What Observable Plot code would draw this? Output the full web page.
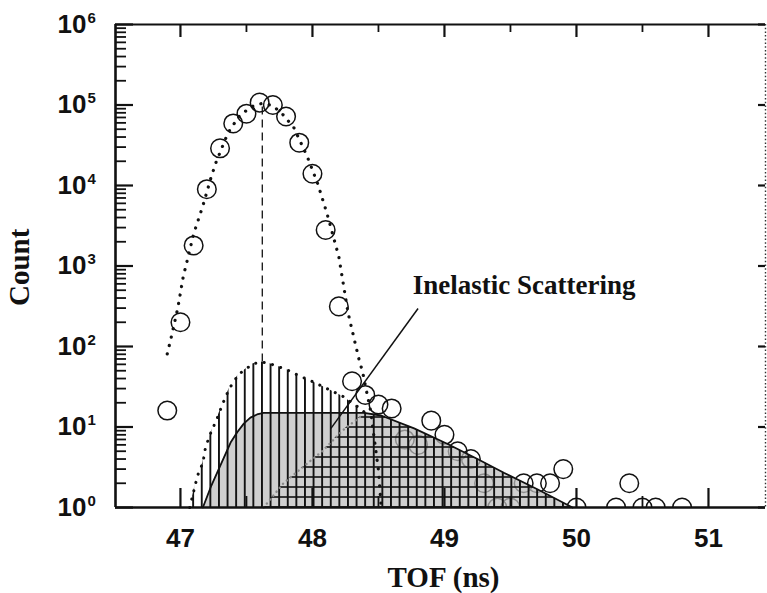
<!DOCTYPE html>
<html><head><meta charset="utf-8">
<script src="https://cdn.jsdelivr.net/npm/d3@7"></script>
<script src="https://cdn.jsdelivr.net/npm/@observablehq/plot@0.6"></script>
<style>html,body{margin:0;padding:0;background:#fff;overflow:hidden}</style>
</head><body><div id="chart"></div>
<script>
// ---- data ----
// measured elastic-peak counts (open circles)
const elasticTOF = [46.9, 47.0, 47.1, 47.2, 47.3, 47.4, 47.5, 47.6, 47.7, 47.8, 47.9, 48.0, 48.1, 48.2, 48.3, 48.4, 48.5, 48.6, 48.7, 48.8, 48.9, 49.0, 49.1, 49.2, 49.3, 49.4, 49.5, 49.6, 49.7, 49.8, 49.9, 50.0, 50.3, 50.4, 50.5, 50.6, 50.8];
const elasticCount = [16, 200, 1800, 9000, 29000, 59000, 78000, 107000, 100000, 72000, 34000, 14000, 2800, 315, 37, 25, 19, 17, 7, 6, 12, 8, 5, 4, 2, 1, 1, 2, 2, 2, 3, 1, 1, 2, 1, 1, 1];

// dotted fit through the elastic peak
const fitTOF = [46.90, 46.93, 46.98, 47.02, 47.10, 47.17, 47.23, 47.27, 47.36, 47.45, 47.55, 47.62, 47.70, 47.78, 47.86, 47.96, 48.04, 48.11, 48.20, 48.27, 48.35, 48.38, 48.44, 48.50, 48.52];
const fitCount = [81, 130, 300, 720, 2500, 5600, 12300, 19500, 45000, 75000, 97000, 105000, 98000, 75000, 52000, 23000, 10500, 4500, 1300, 260, 72, 48, 16, 2.9, 1.05];

// vertically hatched envelope (dotted outline), rising part
const hatchTOF = [47.07, 47.13, 47.17, 47.19, 47.23, 47.28, 47.32, 47.37, 47.44, 47.55, 47.62, 47.68, 47.80, 47.89, 48.01, 48.11, 48.23, 48.35, 48.40];
const hatchCount = [1, 2.5, 3.6, 5.6, 8.5, 13, 19.5, 30, 45, 61, 64, 61, 52, 44, 36, 30, 24, 17.5, 15];

// grey inelastic-scattering region (solid outline)
const greyTOF = [47.17, 47.23, 47.28, 47.33, 47.38, 47.43, 47.48, 47.53, 47.58, 47.63, 48.39, 48.52, 48.77, 49.02, 49.25, 49.45, 49.70, 49.97];
const greyCount = [1, 1.8, 2.75, 4.2, 6.4, 8.6, 11, 13.1, 14.3, 15, 15, 13.9, 9.6, 6.2, 4.0, 2.7, 1.7, 1];

// cross-hatched region, rising (grey dotted) edge
const crossTOF = [47.63, 47.78, 47.93, 48.08, 48.23, 48.39];
const crossCount = [1, 2.0, 3.2, 5.1, 9.1, 14.5];

// dashed line at the peak position
const peakTOF = [47.62];
const peakFrom = [64];
const peakTo = [105000];

// annotation
const labelText = ["Inelastic Scattering"];
const labelTOF = [48.76];
const labelCount = [455];
const leaderTOF = [48.80, 48.14];
const leaderCount = [297, 9.6];

// axes
const xDomain = [46.508, 51.432];
const yDomain = [1, 1e6];
const xMajor = [47, 48, 49, 50, 51];
const xMinor = [47.5, 48.5, 49.5, 50.5];
const yMajor = [1, 10, 100, 1000, 10000, 100000, 1000000];
const yExp = ["0", "1", "2", "3", "4", "5", "6"];
const yMinor = [];
for (let d = 0; d < 6; d++) for (let m = 2; m <= 9; m++) yMinor.push(m * Math.pow(10, d));
const xTitle = "TOF (ns)";
const yTitle = "Count";

// ---- layout ----
const W = 767, H = 593, ML = 115, MR = 2, MT = 24, MB = 86;
const FW = W - ML - MR, FH = H - MT - MB;
const SANS = "Liberation Sans, Arial, Helvetica, sans-serif";
const SERIF = "Liberation Serif, Times New Roman, serif";

const pts = (xs, ys) => xs.map((x, i) => ({x, y: ys[i]}));
const elastic = pts(elasticTOF, elasticCount);
const fit = pts(fitTOF, fitCount);
const hatchRise = pts(hatchTOF, hatchCount);
const grey = pts(greyTOF, greyCount);
const crossRise = pts(crossTOF, crossCount);
const greyTail = grey.filter(d => d.x > 48.4);
const hatchArea = hatchRise.concat(greyTail);
const crossArea = crossRise.concat(grey.filter(d => d.x >= 48.39));
const label = labelText.map((t, i) => ({text: t, x: labelTOF[i], y: labelCount[i]}));
const leader = [{x1: leaderTOF[0], y1: leaderCount[0], x2: leaderTOF[1], y2: leaderCount[1]}];
const peak = peakTOF.map((x, i) => ({x, y1: peakFrom[i], y2: peakTo[i]}));

const dotted = {strokeLinecap: "round", strokeDasharray: "0.1,8.5"};

const plot = Plot.plot({
  width: W, height: H,
  marginLeft: ML, marginRight: MR, marginTop: MT, marginBottom: MB,
  style: {background: "white"},
  x: {domain: xDomain, axis: null},
  y: {type: "log", domain: yDomain, axis: null},
  marks: [
    Plot.dot(elastic, {x: "x", y: "y", r: 9.3, stroke: "#111", strokeWidth: 1.5, fill: "none", clip: true}),
    Plot.areaY(grey, {x: "x", y1: 1, y2: "y", fill: "#bdbdbd", fillOpacity: 0.72}),
    Plot.areaY(hatchArea, {x: "x", y1: 1, y2: "y", fill: "url(#vhatch)"}),
    Plot.areaY(crossArea, {x: "x", y1: 1, y2: "y", fill: "url(#hhatch)"}),
    Plot.line(grey, {x: "x", y: "y", stroke: "#111", strokeWidth: 1.8}),
    Plot.line(hatchRise, {x: "x", y: "y", stroke: "#111", strokeWidth: 3, ...dotted}),
    Plot.line(crossRise, {x: "x", y: "y", stroke: "#8a8a8a", strokeWidth: 2.4, strokeLinecap: "round", strokeDasharray: "0.1,5"}),
    Plot.line(fit, {x: "x", y: "y", stroke: "#111", strokeWidth: 3.2, ...dotted, clip: true}),
    Plot.ruleX(peak, {x: "x", y1: "y1", y2: "y2", stroke: "#111", strokeWidth: 1.3, strokeDasharray: "8,5"}),
    Plot.link(leader, {x1: "x1", y1: "y1", x2: "x2", y2: "y2", stroke: "#111", strokeWidth: 1.5}),
    Plot.text(label, {x: "x", y: "y", text: "text", textAnchor: "start", lineAnchor: "bottom", fontSize: 27, fontWeight: "bold", fontFamily: SERIF, fill: "#111"}),
    // frame
    Plot.ruleY([yDomain[1]], {stroke: "#111", strokeWidth: 2.2}),
    Plot.ruleY([yDomain[0]], {stroke: "#111", strokeWidth: 2.4}),
    Plot.ruleX([xDomain[0]], {stroke: "#111", strokeWidth: 2.6}),
    Plot.ruleX([xDomain[1]], {stroke: "#333", strokeWidth: 1.4, strokeDasharray: "1.5,2.2"}),
    // left ticks (inward)
    Plot.tickY(yMajor, {y: d => d, insetRight: FW - 18, stroke: "#111", strokeWidth: 2.2}),
    Plot.tickY(yMinor, {y: d => d, insetRight: FW - 11, stroke: "#111", strokeWidth: 1.8}),
    // right ticks (inward)
    Plot.tickY(yMajor, {y: d => d, insetLeft: FW - 7, stroke: "#111", strokeWidth: 2.2}),
    // bottom ticks
    Plot.tickX(xMajor, {x: d => d, insetTop: FH - 19, stroke: "#111", strokeWidth: 2.2}),
    Plot.tickX(xMinor, {x: d => d, insetTop: FH - 11, stroke: "#111", strokeWidth: 1.8}),
    // top ticks
    Plot.tickX(xMajor, {x: d => d, insetBottom: FH - 13, stroke: "#111", strokeWidth: 2.2}),
    Plot.tickX(xMinor, {x: d => d, insetBottom: FH - 8, stroke: "#111", strokeWidth: 1.8}),
    // tick labels
    Plot.text(xMajor, {x: d => d, text: d => String(d), frameAnchor: "bottom", lineAnchor: "top", dy: 21, fontSize: 26, fontWeight: "bold", fontFamily: SANS, fill: "#111"}),
    Plot.text(yMajor, {y: d => d, text: () => "10", frameAnchor: "left", textAnchor: "end", dx: -29, fontSize: 26, fontWeight: "bold", fontFamily: SANS, fill: "#111"}),
    Plot.text(yMajor, {y: d => d, text: (d, i) => yExp[i], frameAnchor: "left", textAnchor: "start", lineAnchor: "bottom", dx: -28, dy: -2, fontSize: 15, fontWeight: "bold", fontFamily: SANS, fill: "#111"}),
    // axis titles
    Plot.text([xTitle], {text: d => d, frameAnchor: "bottom", lineAnchor: "bottom", dx: 3, dy: 79, fontSize: 29, fontWeight: "bold", fontFamily: SERIF, fill: "#111"}),
    Plot.text([yTitle], {text: d => d, frameAnchor: "left", rotate: -90, dx: -96, dy: 40, fontSize: 29, fontWeight: "bold", fontFamily: SERIF, fill: "#111"})
  ]
});

d3.select(plot).insert("defs", ":first-child").html(
  '<pattern id="vhatch" patternUnits="userSpaceOnUse" x="3" y="0" width="8.6" height="10">' +
  '<line x1="0.9" y1="-1" x2="0.9" y2="11" stroke="#111" stroke-width="2"/></pattern>' +
  '<pattern id="hhatch" patternUnits="userSpaceOnUse" x="0" y="0" width="10" height="10">' +
  '<line x1="-1" y1="7" x2="11" y2="7" stroke="#111" stroke-width="1.6"/></pattern>'
);
document.getElementById("chart").appendChild(plot);
</script>
</body></html>
